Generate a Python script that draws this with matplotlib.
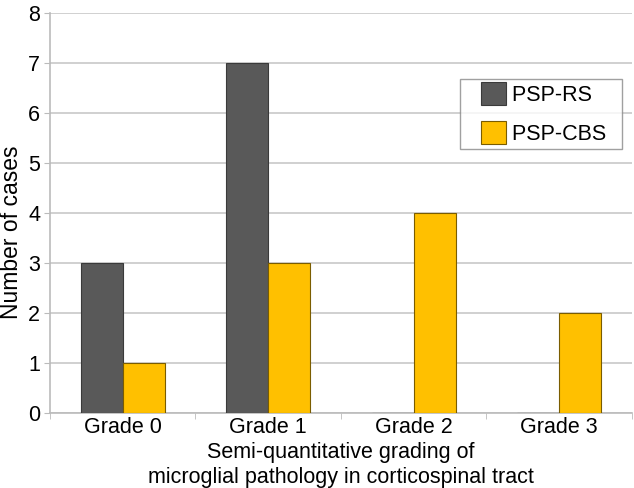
import matplotlib.pyplot as plt
import numpy as np
from matplotlib.patches import Rectangle
from matplotlib.container import BarContainer
from matplotlib.legend_handler import HandlerPatch

categories = ['Grade 0', 'Grade 1', 'Grade 2', 'Grade 3']
psp_rs = [3, 7, 0, 0]
psp_cbs = [1, 3, 4, 2]

plt.rcParams['font.family'] = ['Liberation Sans', 'DejaVu Sans']

fig = plt.figure(figsize=(6.34, 4.88), dpi=100)
ax = fig.add_axes([50 / 634, 75 / 488, 582 / 634, 400 / 488])

x = np.arange(len(categories))
w = 0.29
ax.bar(x - w / 2, psp_rs, w, color='#595959', edgecolor='#3a3a3a', linewidth=0.8,
       label='PSP-RS  ', zorder=3)
ax.bar(x + w / 2, psp_cbs, w, color='#ffc000', edgecolor='#7a5c00', linewidth=0.8,
       label='PSP-CBS  ', zorder=3)

ax.set_xlim(-0.5, 3.5)
ax.set_ylim(0, 8)
ax.set_yticks(range(9))
ax.set_xticks(x)
ax.set_xticklabels(categories)
ax.set_xticks(np.arange(-0.5, 4, 1), minor=True)
ax.tick_params(axis='x', which='major', length=0, labelsize=15.5, pad=3)
ax.tick_params(axis='x', which='minor', length=4, color='#bbbbbb')
ax.tick_params(axis='y', length=4, color='#bbbbbb', labelsize=15.5, pad=3)
ax.grid(axis='y', color='#c8c8c8', linewidth=1.2, zorder=0)

for s in ['top', 'right']:
    ax.spines[s].set_visible(False)
for s in ['left', 'bottom']:
    ax.spines[s].set_color('#bbbbbb')
    ax.spines[s].set_linewidth(1.2)

ax.set_ylabel('Number of cases', fontsize=16.5)
ax.yaxis.set_label_coords(-0.047, 0.4525)
ax.set_xlabel('Semi-quantitative grading of\nmicroglial pathology in corticospinal tract',
              fontsize=15.5, labelpad=3, linespacing=1.2)


# legend swatch pushed right inside its handle box, for the wider left margin
def swatch(legend, orig_handle, xdescent, ydescent, width, height, fontsize):
    off = 12
    return Rectangle((-xdescent + off, -ydescent - 1), width - off, height + 2)


def from_bar(handle, orig):
    handle.update_from(orig.patches[0])


leg = ax.legend(loc='upper right', bbox_to_anchor=(0.983, 0.835), fontsize=15.5,
                frameon=True, fancybox=False, edgecolor='#888888',
                handlelength=1.95, handleheight=1.05, handletextpad=0.25,
                borderpad=0.2, labelspacing=0.8, borderaxespad=0,
                handler_map={BarContainer: HandlerPatch(patch_func=swatch,
                                                        update_func=from_bar)})
leg.get_frame().set_linewidth(1.0)

fig.savefig('out.png', dpi=100)
